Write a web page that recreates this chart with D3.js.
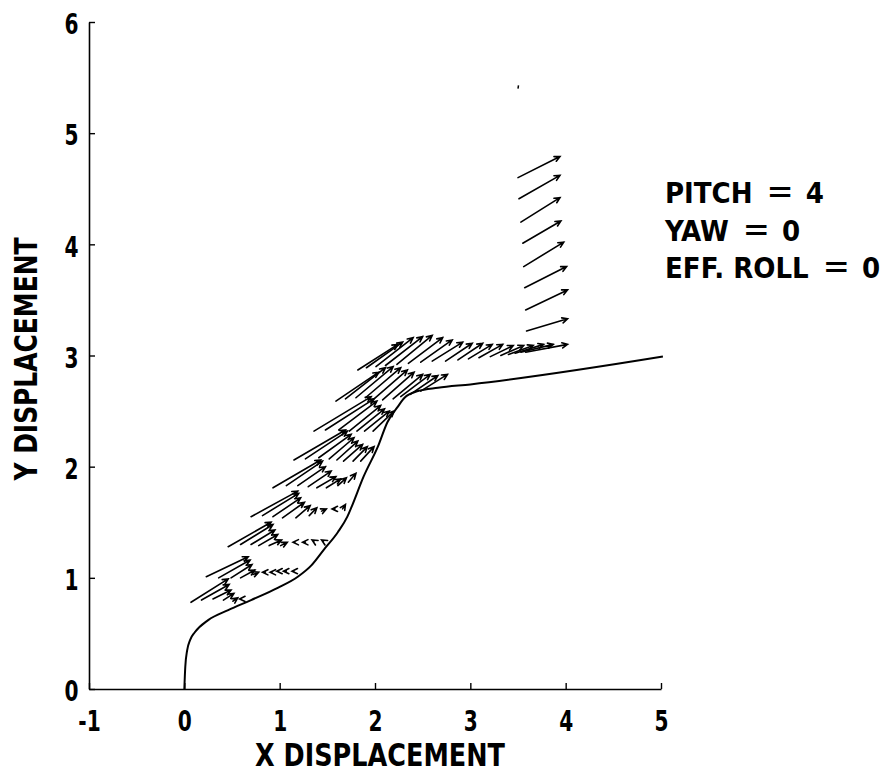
<!DOCTYPE html>
<html>
  <head>
    <meta charset="utf-8">
    <script src="https://d3js.org/d3.v7.min.js"></script>
    <style type="text/css">
      body { margin: 0; background: #ffffff; }
      svg text {
        font-family: "DejaVu Sans Condensed", "Liberation Sans Narrow", sans-serif;
        font-weight: bold;
        fill: #000000;
      }
    </style>
  </head>
<body>
  <script type="text/javascript">
    // Axis ticks
    var xTicks = [-1, 0, 1, 2, 3, 4, 5];
    var yTicks = [0, 1, 2, 3, 4, 5, 6];

    // Trajectory line (x, y)
    var trajectory = [
      [0.00, 0.00], [0.01, 0.20], [0.03, 0.35], [0.06, 0.44], [0.11, 0.51],
      [0.25, 0.62], [0.46, 0.71], [0.70, 0.80], [0.98, 0.91], [1.19, 1.01],
      [1.33, 1.11], [1.46, 1.25], [1.61, 1.41], [1.71, 1.55], [1.76, 1.65],
      [1.88, 1.91], [2.03, 2.18], [2.13, 2.40], [2.24, 2.54], [2.31, 2.62],
      [2.45, 2.68], [2.66, 2.71], [3.00, 2.74], [5.02, 2.99]
    ];

    // Vector rows: [tailX, tailY, headX, headY]
    var rowA = [
      [0.07, 0.78, 0.46, 0.99], [0.18, 0.80, 0.47, 0.94], [0.30, 0.81, 0.49, 0.89],
      [0.41, 0.80, 0.52, 0.86], [0.51, 0.79, 0.56, 0.82], [0.60, 0.81, 0.58, 0.81]
    ];
    var rowB = [
      [0.23, 1.01, 0.67, 1.19], [0.36, 1.00, 0.69, 1.16], [0.49, 1.00, 0.71, 1.12],
      [0.59, 1.00, 0.74, 1.07], [0.72, 1.03, 0.78, 1.05], [0.85, 1.05, 0.82, 1.05],
      [0.92, 1.05, 0.90, 1.05], [0.99, 1.06, 0.97, 1.06], [1.07, 1.06, 1.04, 1.06],
      [1.15, 1.06, 1.13, 1.06]
    ];
    var rowC = [
      [0.46, 1.28, 0.91, 1.50], [0.59, 1.30, 0.93, 1.48], [0.70, 1.30, 0.95, 1.43],
      [0.78, 1.29, 0.98, 1.39], [0.89, 1.29, 1.02, 1.34], [1.01, 1.29, 1.08, 1.32],
      [1.16, 1.32, 1.14, 1.32], [1.27, 1.32, 1.24, 1.32], [1.36, 1.33, 1.34, 1.34],
      [1.46, 1.33, 1.44, 1.34]
    ];
    var rowD = [
      [0.70, 1.55, 1.19, 1.78], [0.82, 1.56, 1.20, 1.76], [0.93, 1.55, 1.22, 1.72],
      [1.03, 1.54, 1.26, 1.68], [1.17, 1.54, 1.32, 1.65], [1.31, 1.56, 1.39, 1.63],
      [1.44, 1.60, 1.49, 1.62], [1.58, 1.62, 1.55, 1.62], [1.66, 1.62, 1.69, 1.66]
    ];
    var rowE = [
      [0.93, 1.81, 1.43, 2.06], [1.07, 1.83, 1.45, 2.05], [1.19, 1.83, 1.48, 2.00],
      [1.30, 1.82, 1.54, 1.96], [1.39, 1.81, 1.59, 1.91], [1.49, 1.81, 1.64, 1.89],
      [1.61, 1.83, 1.70, 1.90], [1.72, 1.86, 1.80, 1.94]
    ];
    var rowF = [
      [1.15, 2.06, 1.69, 2.33], [1.27, 2.07, 1.71, 2.32], [1.41, 2.08, 1.75, 2.29],
      [1.52, 2.07, 1.78, 2.26], [1.60, 2.06, 1.82, 2.23], [1.67, 2.05, 1.87, 2.20],
      [1.77, 2.05, 1.92, 2.18], [1.85, 2.05, 1.99, 2.18]
    ];
    var rowG = [
      [1.36, 2.32, 1.96, 2.63], [1.48, 2.33, 1.99, 2.61], [1.62, 2.33, 2.02, 2.59],
      [1.73, 2.32, 2.06, 2.55], [1.81, 2.32, 2.10, 2.52], [1.89, 2.32, 2.15, 2.50],
      [1.98, 2.32, 2.20, 2.50]
    ];
    var rowH = [
      [1.59, 2.59, 2.04, 2.85], [1.69, 2.61, 2.11, 2.89], [1.80, 2.62, 2.19, 2.90],
      [1.90, 2.62, 2.27, 2.89], [1.99, 2.61, 2.34, 2.87], [2.08, 2.60, 2.41, 2.85],
      [2.19, 2.61, 2.50, 2.83], [2.27, 2.63, 2.58, 2.83], [2.37, 2.65, 2.66, 2.82],
      [2.48, 2.68, 2.76, 2.83]
    ];
    var rowI = [
      [1.82, 2.87, 2.24, 3.10], [1.91, 2.89, 2.29, 3.12], [2.01, 2.90, 2.40, 3.16],
      [2.11, 2.91, 2.50, 3.17], [2.23, 2.92, 2.60, 3.18], [2.35, 2.93, 2.71, 3.16],
      [2.48, 2.94, 2.81, 3.14], [2.60, 2.95, 2.92, 3.12], [2.74, 2.95, 3.02, 3.11],
      [2.87, 2.96, 3.13, 3.11], [2.98, 2.97, 3.23, 3.10], [3.09, 2.98, 3.34, 3.10],
      [3.21, 2.99, 3.45, 3.09], [3.32, 3.00, 3.56, 3.09], [3.40, 3.01, 3.66, 3.09],
      [3.47, 3.02, 3.77, 3.10], [3.53, 3.03, 3.87, 3.10], [3.58, 3.03, 4.02, 3.10]
    ];
    var column = [
      [3.50, 4.60, 3.94, 4.79], [3.51, 4.41, 3.94, 4.62], [3.53, 4.20, 3.94, 4.42],
      [3.55, 4.01, 3.95, 4.21], [3.56, 3.80, 3.98, 4.02], [3.57, 3.61, 4.01, 3.80],
      [3.58, 3.41, 4.02, 3.59], [3.59, 3.22, 4.02, 3.33]
    ];
    // stray plotter mark near the top
    var strayMark = [3.50, 5.40, 3.505, 5.43];

    var legendNames = ["PITCH", "YAW", "EFF. ROLL"];
    var legendValues = ["4", "0", "0"];

    function draw() {
      "use strict";
      var W = 884, H = 775;
      var left = 89, right = 661, top = 22, bottom = 689;
      var squeeze = 0.8;

      var svg = d3.select("body")
        .append("svg")
        .attr("width", W)
        .attr("height", H);

      var x = d3.scaleLinear().domain([-1, 5]).range([left, right]);
      var y = d3.scaleLinear().domain([0, 6]).range([bottom, top]);

      // Axes with inward ticks
      var xAxis = d3.axisBottom(x).tickValues(xTicks).tickSizeInner(-6).tickSizeOuter(0)
        .tickPadding(22).tickFormat(function(d) { return String(d); });
      var yAxis = d3.axisLeft(y).tickValues(yTicks).tickSizeInner(-6).tickSizeOuter(0)
        .tickPadding(13).tickFormat(function(d) { return String(d); });

      var gx = svg.append("g").attr("transform", "translate(0," + bottom + ")").call(xAxis);
      var gy = svg.append("g").attr("transform", "translate(" + left + ",0)").call(yAxis);

      [gx, gy].forEach(function(g) {
        g.select(".domain").attr("stroke", "#000").attr("stroke-width", 1.6);
        g.selectAll(".tick line").attr("stroke", "#000").attr("stroke-width", 1.4);
        g.selectAll(".tick text")
          .style("font-size", "28px")
          .style("font-family", "'DejaVu Sans Condensed', sans-serif")
          .style("font-weight", "bold")
          .attr("fill", "#000")
          .attr("transform", "scale(" + squeeze + ",1)");
      });
      gx.selectAll(".tick text").attr("dy", "0.71em");
      gy.selectAll(".tick text").attr("dy", "0.42em");

      // Axis titles
      svg.append("text")
        .attr("transform", "translate(380,766) scale(0.9,1)")
        .attr("text-anchor", "middle")
        .style("font-size", "31.5px")
        .text("X DISPLACEMENT");

      svg.append("text")
        .attr("transform", "translate(37,359) rotate(-90) scale(0.88,1)")
        .attr("text-anchor", "middle")
        .style("font-size", "31.5px")
        .text("Y DISPLACEMENT");

      // Legend block
      var legend = svg.selectAll("text.legend")
        .data(legendNames)
        .enter()
        .append("text")
        .attr("class", "legend")
        .attr("x", 665)
        .attr("y", function(d, i) { return [203, 241, 278][i]; })
        .style("font-size", "29px");
      legend.append("tspan").text(function(d) { return d; });
      legend.append("tspan")
        .attr("dx", 14)
        .style("font-size", "36px")
        .style("font-weight", "normal")
        .text("=");
      legend.append("tspan")
        .attr("dx", 12)
        .text(function(d, i) { return legendValues[i]; });

      // Trajectory
      var line = d3.line()
        .x(function(d) { return x(d[0]); })
        .y(function(d) { return y(d[1]); })
        .curve(d3.curveMonotoneX);

      svg.append("path")
        .datum(trajectory)
        .attr("d", line)
        .attr("fill", "none")
        .attr("stroke", "#000")
        .attr("stroke-width", 2);

      // Arrow path: shaft plus two barbs at the head
      function arrowPath(d) {
        var x1 = x(d[0]), y1 = y(d[1]), x2 = x(d[2]), y2 = y(d[3]);
        var a = Math.atan2(y2 - y1, x2 - x1);
        var len = 6, spread = 0.45;
        var bx1 = x2 - len * Math.cos(a - spread), by1 = y2 - len * Math.sin(a - spread);
        var bx2 = x2 - len * Math.cos(a + spread), by2 = y2 - len * Math.sin(a + spread);
        return "M" + x1 + "," + y1 + "L" + x2 + "," + y2 +
               "M" + bx1 + "," + by1 + "L" + x2 + "," + y2 + "L" + bx2 + "," + by2;
      }

      var allRows = [rowA, rowB, rowC, rowD, rowE, rowF, rowG, rowH, rowI, column];
      allRows.forEach(function(row) {
        svg.append("g")
          .selectAll("path")
          .data(row)
          .enter()
          .append("path")
          .attr("d", arrowPath)
          .attr("fill", "none")
          .attr("stroke", "#000")
          .attr("stroke-width", 1.6)
          .attr("stroke-linecap", "round");
      });

      svg.append("line")
        .attr("x1", x(strayMark[0])).attr("y1", y(strayMark[1]))
        .attr("x2", x(strayMark[2])).attr("y2", y(strayMark[3]))
        .attr("stroke", "#000")
        .attr("stroke-width", 1.5);
    }

    draw();
  </script>
</body>
</html>
